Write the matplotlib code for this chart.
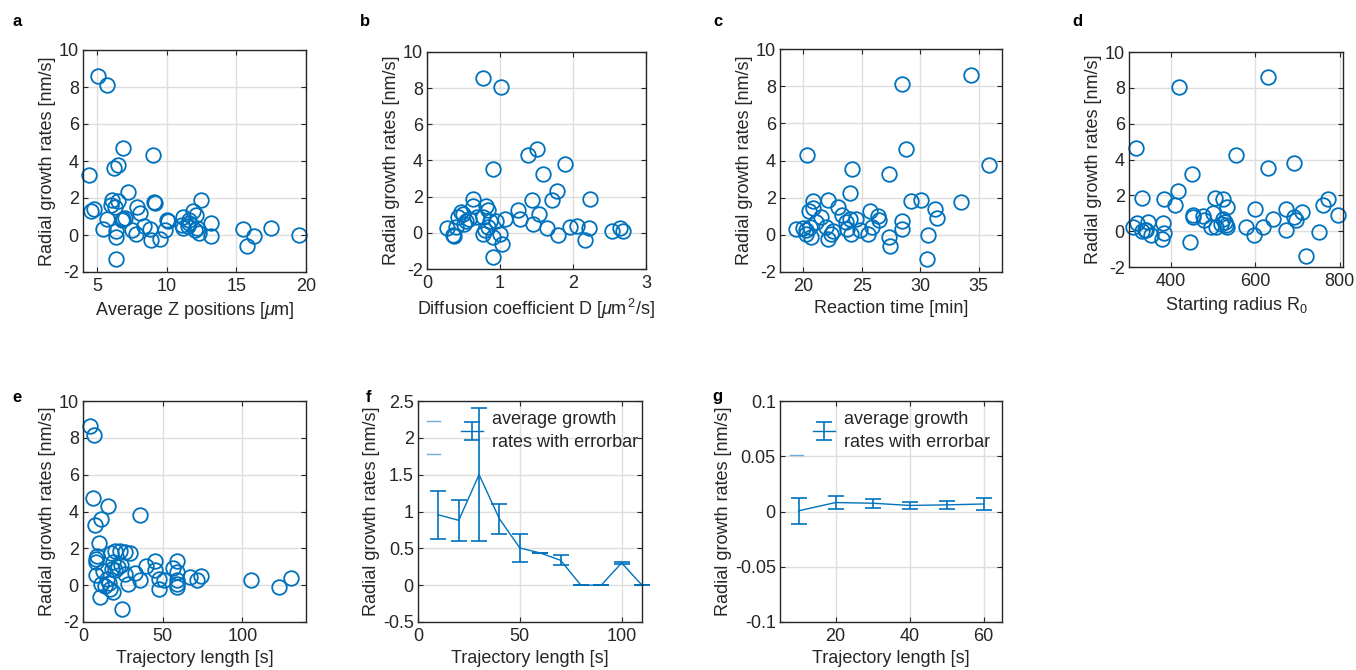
import matplotlib
matplotlib.use("Agg")
import matplotlib.pyplot as plt
from matplotlib.ticker import FuncFormatter

plt.rcParams['font.family'] = ['Liberation Sans', 'DejaVu Sans']
plt.rcParams['mathtext.fontset'] = 'custom'
plt.rcParams['mathtext.rm'] = 'Liberation Sans'
plt.rcParams['mathtext.it'] = 'Liberation Sans:italic'
plt.rcParams['axes.unicode_minus'] = False

BLUE = '#0072BD'
TXT = '#262626'

# ---------------- data ----------------
# panel a: average Z position [um] vs growth rate
a_x = [5.1, 5.7, 6.9, 9.0, 4.4, 6.2, 6.5, 7.2, 6.1, 6.5, 6.3, 9.1, 9.2, 12.5, 7.9, 8.1,
       4.55, 4.8, 5.7, 6.9, 6.8, 5.4, 6.4, 6.4, 7.5, 7.8, 8.35, 8.8, 8.9, 9.5, 9.9, 10.1,
       10.0, 11.2, 11.6, 11.9, 12.1, 11.2, 11.5, 12.2, 12.3, 11.6, 13.2, 13.2, 15.5, 15.8,
       16.3, 17.5, 19.5, 6.4, 6.0, 7.0, 11.1, 12.0]
a_y = [8.6, 8.1, 4.7, 4.3, 3.27, 3.6, 3.8, 2.3, 1.9, 1.85, 1.5, 1.8, 1.75, 1.9, 1.5, 1.2,
       1.3, 1.4, 0.88, 0.85, 0.8, 0.3, 0.2, -0.1, 0.25, 0.04, 0.5, 0.3, -0.25, -0.2, 0.25, 0.76,
       0.8, 1.0, 0.83, 1.3, 1.1, 0.37, 0.47, 0.37, 0.1, 0.65, 0.67, -0.05, 0.3, -0.6,
       -0.05, 0.4, 0.0, -1.3, 1.6, 0.9, 0.55, 0.25]

# panel b: diffusion coefficient D [um^2/s]
b_x = [0.77, 1.01, 0.91, 1.39, 1.51, 1.59, 1.89, 1.78, 1.71, 1.44, 2.23, 1.24, 1.53, 1.27,
       1.45, 1.64, 1.80, 1.96, 2.05, 2.22, 2.16, 2.53, 2.64, 2.69, 1.03, 0.90, 1.07,
       0.27, 0.36, 0.40, 0.42, 0.47, 0.54, 0.51, 0.63, 0.63, 0.68, 0.81, 0.83, 0.77, 0.83,
       0.77, 0.90, 0.95, 0.86, 1.00, 0.49, 0.79, 0.58, 0.37]
b_y = [8.56, 8.06, 3.54, 4.28, 4.65, 3.23, 3.78, 2.31, 1.83, 1.79, 1.85, 1.27, 1.05, 0.74,
       0.50, 0.26, -0.11, 0.35, 0.39, 0.26, -0.39, 0.11, 0.28, 0.11, -0.63, -1.35, 0.74,
       0.26, -0.11, 0.31, 0.87, 1.14, 0.68, 0.50, 1.88, 1.51, 0.87, 1.51, 1.24, 0.87, 0.31,
       -0.06, -0.24, 0.68, 0.68, -0.06, 1.05, 0.13, 0.77, -0.2]

# panel c: reaction time [min]
c_x = [34.35, 28.48, 28.77, 20.32, 24.18, 27.31, 35.85, 24.01, 33.50, 29.20, 30.11, 31.23,
       31.43, 28.40, 28.48, 30.69, 30.57, 27.34, 27.45, 26.36, 26.45, 25.73, 25.90, 25.53,
       24.53, 22.15, 20.80, 20.86, 20.52, 21.52, 22.98, 23.32, 23.61, 24.01, 23.72, 24.10,
       24.81, 19.37, 19.94, 20.23, 20.66, 20.60, 21.09, 21.95, 22.09, 22.38, 22.52, 20.23]
c_y = [8.59, 8.10, 4.64, 4.28, 3.56, 3.25, 3.77, 2.27, 1.79, 1.82, 1.88, 1.39,
       0.90, 0.76, 0.29, -0.02, -1.32, -0.14, -0.58, 1.01, 0.81, 1.30, 0.43, 0.02,
       0.85, 1.86, 1.82, 1.46, 1.30, 0.97, 1.52, 1.07, 0.70, 0.85, 0.34, 0.07,
       0.25, 0.31, 0.38, 0.07, -0.11, 0.43, 0.70, 0.43, -0.25, 0.07, 0.20, 0.25]

# panel d: starting radius R0
d_x = [630, 418, 317, 554, 630, 691, 450, 416, 410, 330, 382, 503, 523, 533, 499, 451, 453,
       475, 479, 507, 495, 523, 527, 531, 533, 519, 577, 596, 598, 619, 642, 672, 672, 692,
       696, 710, 721, 752, 761, 773, 795, 445, 309, 320, 331, 346, 340, 352, 380, 382, 378, 337]
d_y = [8.58, 8.07, 4.62, 4.24, 3.55, 3.78, 3.21, 2.26, 1.46, 1.85, 1.79, 1.85, 1.78, 1.35,
       1.01, 0.88, 0.79, 0.82, 0.60, 0.22, 0.22, 0.69, 0.50, 0.37, 0.22, 0.41, 0.26, -0.21,
       1.25, 0.22, 0.69, 1.25, 0.04, 0.79, 0.65, 1.05, -1.36, -0.06, 1.48, 1.79, 0.93, -0.58,
       0.26, 0.45, 0.0, 0.50, 0.07, -0.24, 0.45, -0.09, -0.45, 0.04]

# panel e: trajectory length [s]
e_x = [4.6, 6.7, 6.3, 15.7, 35.6, 11.1, 7.8, 10.1, 8.4, 9.0, 8.4, 17.4, 19.9, 23.5, 26.2,
       29.4, 39.8, 45.1, 58.7, 56.6, 58.7, 45.1, 47.6, 50.9, 47.6, 59.1, 58.7, 59.1, 67.1,
       71.3, 74.0, 32.5, 35.6, 28.3, 24.7, 10.5, 8.4, 11.5, 13.6, 16.8, 18.9, 16.1, 15.1,
       18.4, 19.9, 22.0, 18.9, 24.1, 26.2, 12.6, 105.2, 123.0, 130.4]
e_y = [8.65, 8.16, 4.73, 4.31, 3.81, 3.58, 3.27, 2.30, 1.44, 1.57, 1.26, 1.72, 1.86, 1.86, 1.81,
       1.75, 1.06, 1.30, 1.30, 0.95, 0.71, 0.80, 0.35, 0.26, -0.20, 0.26, -0.11, 0.04, 0.44,
       0.26, 0.49, 0.66, 0.26, 0.07, -1.30, -0.66, 0.53, 0.07, -0.02, -0.20, -0.38, 0.13, 0.35,
       0.89, 0.80, 0.99, 1.26, 1.08, 0.62, 0.77, 0.29, -0.11, 0.40]

# panel f: binned average growth rates with error bars
f_x = [10, 20, 30, 40, 50, 60, 70, 80, 90, 100, 110]
f_y = [0.955, 0.88, 1.50, 0.90, 0.505, 0.437, 0.338, 0.0, 0.0, 0.302, 0.0]
f_err = [0.33, 0.28, 0.90, 0.20, 0.185, 0.006, 0.07, 0.0, 0.0, 0.012, 0.0]

# panel g: binned average growth rates with error bars
g_x = [10, 20, 30, 40, 50, 60]
g_y = [0.0006, 0.0081, 0.0075, 0.0055, 0.0060, 0.0068]
g_err = [0.0115, 0.0058, 0.0042, 0.0035, 0.0036, 0.0052]

YLABEL = 'Radial growth rates [nm/s]'
LEGTXT = 'average growth\nrates with errorbar'

LABFS = 13
TICKFS = 13

W, H = 1356, 670
fig = plt.figure(figsize=(W / 100, H / 100), dpi=100)


def make_ax(left, right, top, bottom):
    ax = fig.add_axes([left / W, 1 - bottom / H, (right - left) / W, (bottom - top) / H])
    ax.set_axisbelow(True)
    ax.grid(True, color='#DEDEDE', linewidth=1.0)
    ax.tick_params(direction='in', top=True, right=True, labelsize=TICKFS, colors=TXT,
                   length=3.5, width=0.8, pad=3)
    ax.tick_params(axis='x', pad=4)
    for s in ax.spines.values():
        s.set_linewidth(1.0)
        s.set_color('#262626')
    fmt = FuncFormatter(lambda v, p: ('%g' % round(v, 6)))
    ax.xaxis.set_major_formatter(fmt)
    ax.yaxis.set_major_formatter(fmt)
    return ax


def scatter_panel(ax, x, y):
    ax.plot(x, y, 'o', markersize=10.5, markerfacecolor='none', markeredgecolor=BLUE,
            markeredgewidth=1.3, clip_on=False)
    ax.set_ylim(-2, 10)
    ax.set_yticks([-2, 0, 2, 4, 6, 8, 10])
    ax.set_ylabel(YLABEL, fontsize=LABFS, color=TXT, labelpad=2)


def style_legend(leg):
    for t in leg.get_texts():
        t.set_linespacing(1.5)


XPAD = 4

axa = make_ax(83, 306, 50, 272)
scatter_panel(axa, a_x, a_y)
axa.set_xlim(4, 20)
axa.set_xticks([5, 10, 15, 20])
axa.set_xlabel(r'Average Z positions [$\mu$m]', fontsize=LABFS, color=TXT, labelpad=XPAD)

axb = make_ax(427, 646, 52, 269)
scatter_panel(axb, b_x, b_y)
axb.set_xlim(0, 3)
axb.set_xticks([0, 1, 2, 3])
axb.set_xlabel(r'Diffusion coefficient D [$\mu$m$^{\,2}$/s]', fontsize=LABFS, color=TXT, labelpad=XPAD)

axc = make_ax(780, 1002, 49, 272)
scatter_panel(axc, c_x, c_y)
axc.set_xlim(18, 37)
axc.set_xticks([20, 25, 30, 35])
axc.set_xlabel('Reaction time [min]', fontsize=LABFS, color=TXT, labelpad=XPAD)

axd = make_ax(1129, 1343, 52, 267)
scatter_panel(axd, d_x, d_y)
axd.set_xlim(300, 808)
axd.set_xticks([400, 600, 800])
axd.set_xlabel(r'Starting radius R$_0$', fontsize=LABFS, color=TXT, labelpad=XPAD)

axe = make_ax(83, 306, 401, 622)
scatter_panel(axe, e_x, e_y)
axe.set_xlim(0, 140)
axe.set_xticks([0, 50, 100])
axe.set_xlabel('Trajectory length [s]', fontsize=LABFS, color=TXT, labelpad=XPAD)

# panel f
axf = make_ax(418, 642, 401, 622)
cf = axf.errorbar(f_x, f_y, yerr=f_err, color=BLUE, linewidth=1.0, elinewidth=1.2,
                  capsize=6, capthick=1.2, clip_on=False)
axf.set_xlim(0, 110)
axf.set_ylim(-0.5, 2.5)
axf.set_xticks([0, 50, 100])
axf.set_yticks([-0.5, 0, 0.5, 1, 1.5, 2, 2.5])
axf.set_ylabel(YLABEL, fontsize=LABFS, color=TXT, labelpad=2)
axf.set_xlabel('Trajectory length [s]', fontsize=LABFS, color=TXT, labelpad=XPAD)
legf = axf.legend([cf], [LEGTXT], loc='upper left', bbox_to_anchor=(0.12, 1.03),
                  frameon=False, fontsize=LABFS, handlelength=1.2, handletextpad=0.5,
                  labelcolor=TXT)
style_legend(legf)
for yy in (0.91, 0.76):
    axf.plot([0.04, 0.10], [yy, yy], transform=axf.transAxes, color='#6AAEDD', linewidth=1.0)

# panel g
axg = make_ax(780, 1002, 401, 622)
cg = axg.errorbar(g_x, g_y, yerr=g_err, color=BLUE, linewidth=1.0, elinewidth=1.2,
                  capsize=6, capthick=1.2)
axg.set_xlim(5, 65)
axg.set_ylim(-0.1, 0.1)
axg.set_xticks([20, 40, 60])
axg.set_yticks([-0.1, -0.05, 0, 0.05, 0.1])
axg.set_ylabel(YLABEL, fontsize=LABFS, color=TXT, labelpad=2)
axg.set_xlabel('Trajectory length [s]', fontsize=LABFS, color=TXT, labelpad=XPAD)
legg = axg.legend([cg], [LEGTXT], loc='upper left', bbox_to_anchor=(0.075, 1.03),
                  frameon=False, fontsize=LABFS, handlelength=1.2, handletextpad=0.5,
                  labelcolor=TXT)
style_legend(legg)
axg.plot([0.045, 0.105], [0.755, 0.755], transform=axg.transAxes, color='#6AAEDD', linewidth=1.0)

# panel letters
for lab, (px, py) in zip('abcdefg', [(17, 22), (365, 22), (718, 22), (1077, 22),
                                     (17, 398), (368, 398), (717, 396)]):
    fig.text(px / W, 1 - py / H, lab, fontsize=12, fontweight='bold', color='black',
             ha='center', va='center')

fig.savefig('out.png', dpi=100)
